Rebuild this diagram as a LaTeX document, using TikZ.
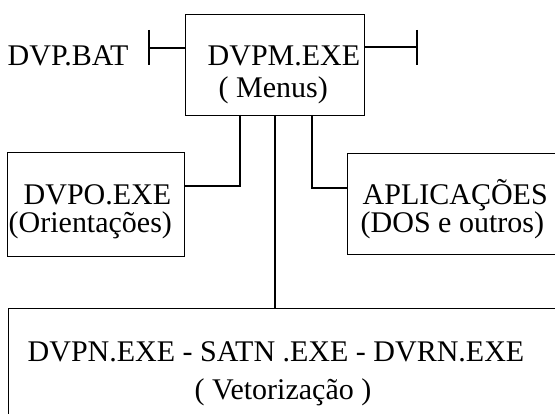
\documentclass[tikz,border=0pt]{standalone}
\usepackage{fontspec}
\setmainfont{Liberation Serif}
\begin{document}
\begin{tikzpicture}[x=1pt,y=1pt,
  line width=1.4pt,
  box/.style={draw=black, line width=1.4pt, rectangle, inner sep=0pt, anchor=north west},
  lbl/.style={anchor=base west, inner sep=0pt, font=\fontsize{30}{36}\selectfont}]
\useasboundingbox (0,0) rectangle (555,-414);
\clip (0,0) rectangle (555,-414);

% boxes
\node[box, minimum width=179pt, minimum height=101pt] (menu) at (185,-14) {};
\node[box, minimum width=177pt, minimum height=104pt] (orient) at (7,-152) {};
\node[box, minimum width=240pt, minimum height=101pt] (apps) at (347,-153) {};
\node[box, minimum width=600pt, minimum height=160pt] (vetor) at (8,-308) {};

% texts
\node[lbl] (tbat) at (7,-66) {DVP.BAT};
\node[lbl] (tmenu1) at (207,-66) {DVPM.EXE};
\node[lbl] (tmenu2) at (218,-98) {( Menus)};
\node[lbl] (torient1) at (23,-205) {DVPO.EXE};
\node[lbl] (torient2) at (8,-233) {(Orientações)};
\node[lbl] (tapps1) at (362,-205) {APLICAÇÕES};
\node[lbl] (tapps2) at (360,-233) {(DOS e outros)};
\node[lbl] (tvetor1) at (27,-362) {DVPN.EXE - SATN .EXE - DVRN.EXE};
\node[lbl] (tvetor2) at (194,-400) {( Vetorização )};

% entry and exit terminals of the menu program
\coordinate (inL) at (149,-48);
\coordinate (outR) at (417,-47);
\draw (inL) -- (inL -| menu.west);
\draw ([yshift=18pt]inL) -- ([yshift=-17pt]inL);
\draw (outR -| menu.east) -- (outR);
\draw ([yshift=17pt]outR) -- ([yshift=-18pt]outR);

% connectors from the menu to the other programs
\coordinate (c1) at (240,-115);
\coordinate (c2) at (275,-115);
\coordinate (c3) at (312,-115);
\draw (c1) |- ([yshift=-34pt]orient.north east);
\draw (c3) |- ([yshift=-35pt]apps.north west);
\draw (c2) -- (c2 |- vetor.north);
\end{tikzpicture}
\end{document}
